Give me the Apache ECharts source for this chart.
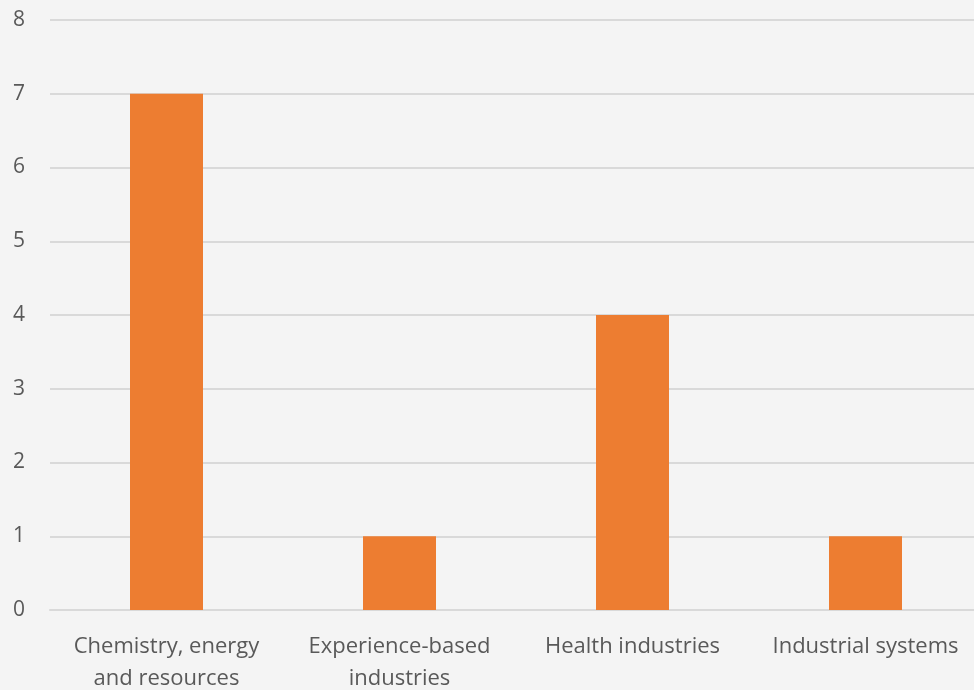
<!DOCTYPE html>
<html><head><meta charset="utf-8">
<script src="https://cdn.jsdelivr.net/npm/echarts@6/dist/echarts.min.js"></script>
<style>html,body{margin:0;padding:0;background:#f4f4f4;}#c{width:974px;height:690px;}</style>
</head><body><div id="c"></div>
<script>
const categories = ["Chemistry, energy\nand resources", "Experience-based\nindustries", "Health industries", "Industrial systems"];
const values = [7, 1, 4, 1];
const yTicks = [0, 1, 2, 3, 4, 5, 6, 7, 8];

const chart = echarts.init(document.getElementById('c'));
chart.setOption({
  backgroundColor: '#f4f4f4',
  animation: false,
  grid: { left: 50, width: 932, top: 20, height: 590, containLabel: false, outerBoundsMode: 'none' },
  xAxis: {
    type: 'category', data: categories,
    axisLine: { show: true, lineStyle: { color: '#d9d9d9', width: 2 } },
    axisTick: { show: false },
    axisLabel: { color: '#595959', fontFamily: 'Open Sans', fontSize: 22, margin: 21, lineHeight: 32, interval: 0 }
  },
  yAxis: {
    type: 'value', min: yTicks[0], max: yTicks[yTicks.length - 1], interval: 1,
    axisLine: { show: false }, axisTick: { show: false },
    splitLine: { lineStyle: { color: '#d9d9d9', width: 2 } },
    axisLabel: { color: '#595959', fontFamily: 'Open Sans', fontSize: 21, margin: 25 }
  },
  series: [{
    type: 'bar', data: values, barWidth: 73,
    itemStyle: { color: '#ed7d31' }
  }]
});
</script></body></html>
